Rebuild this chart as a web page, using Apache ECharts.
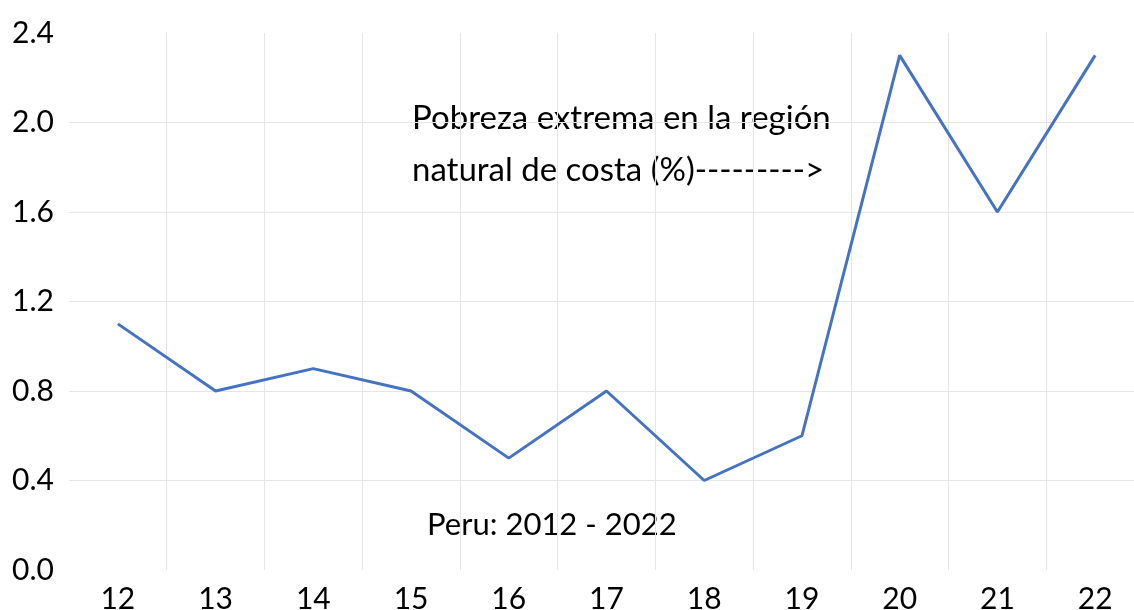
<!DOCTYPE html>
<html>
<head>
<meta charset="utf-8">
<script src="https://cdn.jsdelivr.net/npm/echarts@6/dist/echarts.min.js"></script>
<style>
  html, body { margin: 0; padding: 0; background: #fff; }
  #chart { width: 1134px; height: 610px; }
</style>
</head>
<body>
<div id="chart"></div>
<script>
// años (2012 - 2022, abreviados)
const years = ['12', '13', '14', '15', '16', '17', '18', '19', '20', '21', '22'];
// pobreza extrema en la costa (%)
const pobreza = [1.1, 0.8, 0.9, 0.8, 0.5, 0.8, 0.4, 0.6, 2.3, 1.6, 2.3];
const yTicks = [0, 0.4, 0.8, 1.2, 1.6, 2.0, 2.4];

const font = 'Lato, "Open Sans", sans-serif';
const chart = echarts.init(document.getElementById('chart'));

chart.setOption({
  animation: false,
  grid: { left: 69, top: 33, width: 1075, height: 537, outerBoundsMode: 'none' },
  xAxis: {
    type: 'category',
    data: years,
    boundaryGap: true,
    axisLine: { show: false },
    axisTick: { show: false },
    axisLabel: { color: '#000', fontSize: 30, fontFamily: font, margin: 14 },
    splitLine: { show: true, showMinLine: false, lineStyle: { color: '#e5e5e5', width: 1 } }
  },
  yAxis: {
    type: 'value',
    min: yTicks[0],
    max: yTicks[yTicks.length - 1],
    interval: 0.4,
    axisLine: { show: false },
    axisTick: { show: false },
    axisLabel: {
      color: '#000', fontSize: 30, fontFamily: font,
      align: 'left', margin: 57, padding: [0, 0, 4, 0],
      formatter: v => v.toFixed(1)
    },
    splitLine: {
      show: true, showMinLine: false, showMaxLine: false,
      lineStyle: { color: '#e5e5e5', width: 1 }
    }
  },
  graphic: [
    {
      type: 'text', left: 412, top: 92,
      style: {
        text: 'Pobreza extrema en la región\nnatural de costa (%)--------->',
        font: '33px ' + font, fill: '#000', lineHeight: 52
      }
    },
    {
      type: 'text', left: 427, top: 509,
      style: { text: 'Peru: 2012 - 2022', font: '31px ' + font, fill: '#000' }
    }
  ],
  series: [{
    type: 'line',
    data: pobreza,
    symbol: 'none',
    lineStyle: { color: '#4472C4', width: 3 }
  }]
});
</script>
</body>
</html>
